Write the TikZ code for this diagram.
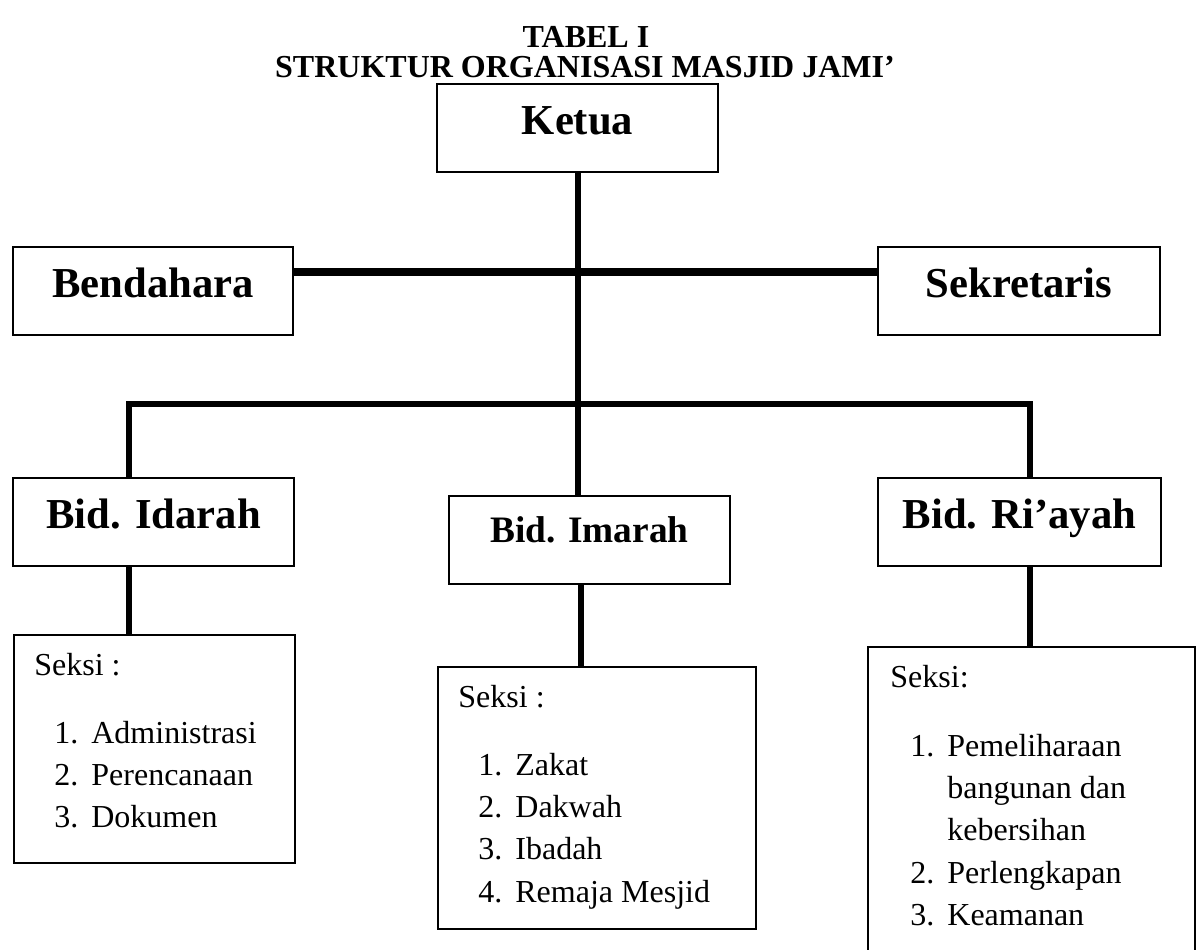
\documentclass[tikz,border=0pt]{standalone}
\usepackage{fontspec}
\setmainfont{Liberation Serif}
\tikzset{
    kotak/.style={
           draw=black, line width=1pt,
           minimum height=44pt,
           inner sep=0pt,
           text height=15pt, text depth=9pt,
           font=\fontsize{21.33}{25}\selectfont\bfseries},
    seksi/.style={
           draw=black, line width=1pt,
           inner sep=0pt,
           anchor=north west},
    isi/.style={
           anchor=base west,
           inner sep=0pt,
           font=\fontsize{16}{21.2}\selectfont},
    garis/.style={
           line width=3pt}
}
\newcommand{\nomor}[1]{\makebox[18.5pt][l]{#1}}

\begin{document}
\begin{tikzpicture}[x=0.5pt, y=-0.5pt]
        \useasboundingbox (0,0) rectangle (1197,949);

        % judul
        \node[anchor=base, font=\fontsize{16}{20}\selectfont\bfseries] (judul1) at (586,47) {TABEL I};
        \node[anchor=base, font=\fontsize{16}{20}\selectfont\bfseries] (judul2) at (585,77) {STRUKTUR ORGANISASI MASJID JAMI’};

        % pengurus inti
        \node[kotak, minimum width=140.5pt] (ketua) at (577.5,128) {Ketua};
        \node[kotak, minimum width=140pt] (bendahara) at (153,291) {Bendahara};
        \node[kotak, minimum width=141pt] (sekretaris) at (1019,291) {Sekretaris};

        % bidang
        \node[kotak, minimum width=140.5pt] (idarah) at (153.5,522) {Bid. Idarah};
        \node[kotak, minimum width=140.5pt, text height=13pt, text depth=11pt,
              font=\fontsize{18.67}{22}\selectfont\bfseries] (imarah) at (589.5,540) {Bid. Imarah};
        \node[kotak, minimum width=141.5pt] (riayah) at (1019.5,522) {Bid. Ri’ayah};

        % seksi
        \node[seksi, minimum width=140.5pt, minimum height=114pt] (seksi1) at (13,634) {};
        \node[seksi, minimum width=159pt, minimum height=131pt] (seksi2) at (437,666) {};
        \node[seksi, minimum width=163.5pt, minimum height=165pt] (seksi3) at (867,646) {};

        \node[isi] (ks1) at ([shift={(21,41)}]seksi1.north west) {Seksi :};
        \node[isi] (ds1) at ([shift={(41,109)}]seksi1.north west) {%
            \begin{tabular}[t]{@{}l@{}}
            \nomor{1.}Administrasi\\
            \nomor{2.}Perencanaan\\
            \nomor{3.}Dokumen
            \end{tabular}};

        \node[isi] (ks2) at ([shift={(21,41)}]seksi2.north west) {Seksi :};
        \node[isi] (ds2) at ([shift={(41,109)}]seksi2.north west) {%
            \begin{tabular}[t]{@{}l@{}}
            \nomor{1.}Zakat\\
            \nomor{2.}Dakwah\\
            \nomor{3.}Ibadah\\
            \nomor{4.}Remaja Mesjid
            \end{tabular}};

        \node[isi] (ks3) at ([shift={(23,41)}]seksi3.north west) {Seksi:};
        \node[isi] (ds3) at ([shift={(43,110)}]seksi3.north west) {%
            \begin{tabular}[t]{@{}l@{}}
            \nomor{1.}Pemeliharaan\\
            \nomor{}bangunan dan\\
            \nomor{}kebersihan\\
            \nomor{2.}Perlengkapan\\
            \nomor{3.}Keamanan
            \end{tabular}};

        % garis
        \coordinate (palang) at (578,272);
        \coordinate (bkiri) at (129,404);
        \coordinate (bkanan) at (1030,404);

        \draw[garis] (ketua.south) -- (ketua.south |- imarah.north);
        \draw[garis, line width=3.75pt] (bendahara.east |- palang) -- (sekretaris.west |- palang);
        \draw[garis] (idarah.north -| bkiri) -- (bkiri) -- (bkanan) -- (riayah.north -| bkanan);

        \draw[garis] (idarah.south -| bkiri) -- (seksi1.north -| bkiri);
        \draw[garis] ([xshift=-4.25pt]imarah.south) -- ([xshift=-4.25pt]imarah.south |- seksi2.north);
        \draw[garis] (riayah.south -| bkanan) -- (seksi3.north -| bkanan);
    \end{tikzpicture}
\end{document}
